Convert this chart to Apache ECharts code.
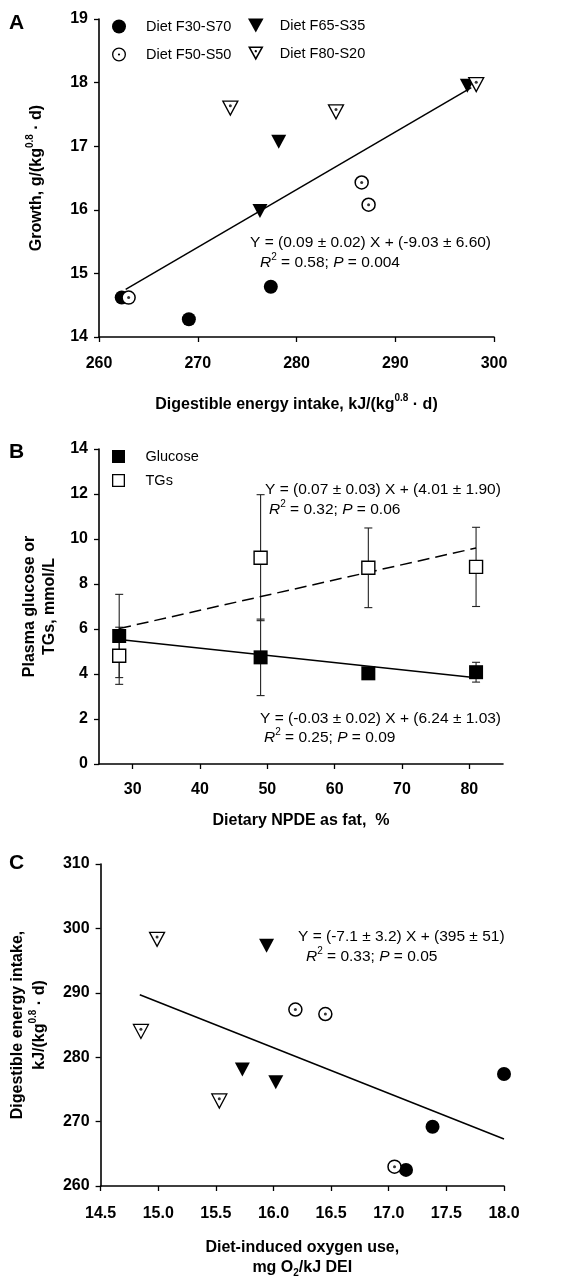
<!DOCTYPE html>
<html>
<head>
<meta charset="utf-8">
<script src="https://cdn.jsdelivr.net/npm/echarts@6/dist/echarts.min.js"></script>
<style>
html, body { margin: 0; padding: 0; background: #fff; }
#chart { width: 584px; height: 1279px; }
</style>
</head>
<body>
<div id="chart"></div>
<script>
// ---- data ----
// A: growth vs digestible energy intake
var growthF30 = [[262.3, 14.62], [269.1, 14.28], [277.4, 14.79]];
var growthF50 = [[263.0, 14.62], [286.6, 16.43], [287.3, 16.08]];
var growthF65 = [[276.3, 15.98], [278.2, 17.07], [297.3, 17.95]];
var growthF80 = [[273.3, 17.60], [284.0, 17.54], [298.2, 17.97]];
var growthFit = [[262.7, 14.75], [297.7, 17.92]];

// B: plasma glucose / TGs vs NPDE as fat
var fatPct = [28, 49, 65, 81];
var glucose = [5.69, 4.74, 4.03, 4.08];
var glucoseSd = [1.85, 1.70, 0.25, 0.44];
var tgs = [4.81, 9.17, 8.72, 8.76];
var tgsSd = [1.27, 2.80, 1.77, 1.76];
var glucoseFit = [[28, 5.53], [81, 3.83]];
var tgsFit = [[28, 6.02], [81, 9.60]];
var fatTicks = [30, 40, 50, 60, 70, 80];

// C: DEI vs diet-induced oxygen use
var deiF30 = [[17.15, 262.5], [17.38, 269.2], [18.00, 277.4]];
var deiF50 = [[17.05, 263.0], [16.19, 287.4], [16.45, 286.7]];
var deiF65 = [[15.94, 297.3], [15.73, 278.1], [16.02, 276.1]];
var deiF80 = [[14.99, 298.3], [14.85, 284.0], [15.53, 273.2]];
var deiFit = [[14.84, 289.7], [18.00, 267.3]];

var FONT = "'Liberation Sans', Arial, sans-serif";

// marker shapes
var triPath = 'path://M0,0 L20,0 L10,18 Z';
var discPath = 'path://M0,10 A10,10 0 1 1 20,10 A10,10 0 1 1 0,10 Z';
var ringPath = 'path://M0,10 A10,10 0 1 1 20,10 A10,10 0 1 1 0,10 Z ' +
  'M1.9,10 A8.1,8.1 0 1 0 18.1,10 A8.1,8.1 0 1 0 1.9,10 Z ' +
  'M8.4,10 A1.6,1.6 0 1 1 11.6,10 A1.6,1.6 0 1 1 8.4,10 Z';
var triRingPath = 'path://M0,0 L20,0 L10,18 Z M3.4,2 L10,13.9 L16.6,2 Z ' +
  'M8.5,6 A1.5,1.5 0 1 1 11.5,6 A1.5,1.5 0 1 1 8.5,6 Z';
var sqPath = 'path://M0,0 L20,0 L20,20 L0,20 Z';
var sqRingPath = 'path://M0,0 L20,0 L20,20 L0,20 Z M2,2 L2,18 L18,18 L18,2 Z';

function withSd(xs, ys, sd) {
  var out = [];
  for (var i = 0; i < xs.length; i++) out.push([xs[i], ys[i] - sd[i], ys[i] + sd[i]]);
  return out;
}
function pairs(xs, ys) {
  return xs.map(function (x, i) { return [x, ys[i]]; });
}

function axisCommon() {
  return {
    axisLine: { show: true, onZero: false, lineStyle: { color: '#000', width: 1.6 } },
    axisTick: { show: true, inside: false, length: 5, lineStyle: { color: '#000', width: 1.3 } },
    axisLabel: { color: '#000', fontSize: 16, fontWeight: 'bold', fontFamily: FONT },
    splitLine: { show: false },
    nameLocation: 'middle',
    nameTextStyle: {
      color: '#000', fontSize: 16, fontWeight: 'bold', fontFamily: FONT, lineHeight: 20,
      rich: {
        sup: { fontSize: 10, fontWeight: 'bold', fontFamily: FONT, color: '#000', verticalAlign: 'top', lineHeight: 24 },
        sub: { fontSize: 10, fontWeight: 'bold', fontFamily: FONT, color: '#000', verticalAlign: 'bottom' }
      }
    }
  };
}
function ax(extra) {
  var a = axisCommon();
  for (var k in extra) {
    if (typeof extra[k] === 'object' && !Array.isArray(extra[k]) && a[k]) {
      for (var j in extra[k]) a[k][j] = extra[k][j];
    } else a[k] = extra[k];
  }
  return a;
}

function dotSeries(data, xi, yi, offset) {
  return {
    type: 'scatter', name: 'dot', xAxisIndex: xi, yAxisIndex: yi, data: data,
    symbol: 'circle', symbolSize: 3, symbolOffset: offset || [0, 0],
    itemStyle: { color: '#000' }, silent: true, z: 3
  };
}
function lineSeries(data, xi, yi, type) {
  return {
    type: 'line', name: 'fit', xAxisIndex: xi, yAxisIndex: yi, data: data,
    symbol: 'none', silent: true, lineStyle: { color: '#000', width: 1.5, type: type || 'solid' }, z: 1
  };
}
function dietSeries(xi, yi, f30, f50, f65, f80) {
  return [
    { type: 'scatter', name: 'Diet F30-S70', xAxisIndex: xi, yAxisIndex: yi, data: f30,
      symbol: 'circle', symbolSize: 14, itemStyle: { color: '#000', opacity: 1 }, z: 2 },
    { type: 'scatter', name: 'Diet F50-S50', xAxisIndex: xi, yAxisIndex: yi, data: f50,
      symbol: 'circle', symbolSize: 13, itemStyle: { color: '#fff', borderColor: '#000', borderWidth: 1.5, opacity: 1 }, z: 2 },
    dotSeries(f50, xi, yi),
    { type: 'scatter', name: 'Diet F65-S35', xAxisIndex: xi, yAxisIndex: yi, data: f65,
      symbol: triPath, symbolSize: [15, 14], itemStyle: { color: '#000', opacity: 1 }, z: 2 },
    { type: 'scatter', name: 'Diet F80-S20', xAxisIndex: xi, yAxisIndex: yi, data: f80,
      symbol: triPath, symbolSize: [15, 14], itemStyle: { color: '#fff', borderColor: '#000', borderWidth: 1.3, opacity: 1 }, z: 2 },
    dotSeries(f80, xi, yi, [0, -2.3])
  ];
}

function errorSeries(data, xi, yi) {
  return {
    type: 'custom', name: 'err', xAxisIndex: xi, yAxisIndex: yi, data: data, z: 1, silent: true,
    renderItem: function (params, api) {
      var x = api.value(0);
      var lo = api.coord([x, api.value(1)]);
      var hi = api.coord([x, api.value(2)]);
      var c = 4;
      var st = { stroke: '#222', lineWidth: 1.1 };
      return {
        type: 'group', children: [
          { type: 'line', shape: { x1: lo[0], y1: lo[1], x2: hi[0], y2: hi[1] }, style: st },
          { type: 'line', shape: { x1: lo[0] - c, y1: lo[1], x2: lo[0] + c, y2: lo[1] }, style: st },
          { type: 'line', shape: { x1: hi[0] - c, y1: hi[1], x2: hi[0] + c, y2: hi[1] }, style: st }
        ]
      };
    }
  };
}

function txt(x, y, text, size, extra) {
  var s = {
    text: text, x: x, y: y, fill: '#000', fontFamily: FONT, fontSize: size || 15.5,
    verticalAlign: 'middle', align: 'left',
    rich: {
      i: { fontStyle: 'italic', fontSize: 15.5, fontFamily: FONT, fill: '#000' },
      s: { fontSize: 10, fontFamily: FONT, fill: '#000', verticalAlign: 'top', lineHeight: 22 }
    }
  };
  if (extra) for (var k in extra) s[k] = extra[k];
  return { type: 'text', style: s, z: 10 };
}

var legendText = { color: '#000', fontSize: 14.5, fontFamily: FONT };
var black = { color: '#000', borderWidth: 0 };

var option = {
  animation: false,
  backgroundColor: '#fff',
  grid: [
    { left: 99, right: 90, top: 19, height: 318 },
    { left: 99, right: 81, top: 449, height: 315 },
    { left: 99, right: 80, top: 864, height: 325 }
  ],
  legend: [
    { orient: 'vertical', left: 107, top: 14, itemWidth: 44, itemHeight: 14, itemGap: 13,
      selectedMode: false, textStyle: legendText,
      data: [{ name: 'Diet F30-S70', icon: discPath, itemStyle: black },
             { name: 'Diet F50-S50', icon: ringPath, itemStyle: black }] },
    { orient: 'vertical', left: 243, top: 13, itemWidth: 38, itemHeight: 14, itemGap: 13,
      selectedMode: false, textStyle: legendText,
      data: [{ name: 'Diet F65-S35', icon: triPath, itemStyle: black },
             { name: 'Diet F80-S20', icon: triRingPath, itemStyle: black }] },
    { orient: 'vertical', left: 107, top: 444, itemWidth: 44, itemHeight: 13, itemGap: 9,
      selectedMode: false, textStyle: legendText,
      data: [{ name: 'Glucose', icon: sqPath, itemStyle: black },
             { name: 'TGs', icon: sqRingPath, itemStyle: black }] }
  ],
  xAxis: [
    ax({ gridIndex: 0, type: 'value', min: 260, max: 300, interval: 10,
         name: 'Digestible energy intake, kJ/(kg{sup|0.8} · d)', nameGap: 56,
         axisLabel: { margin: 19 } }),
    ax({ gridIndex: 1, type: 'value', min: 25, max: 85,
         name: 'Dietary NPDE as fat,  %', nameGap: 47,
         axisTick: { customValues: fatTicks },
         axisLabel: { margin: 18, customValues: fatTicks } }),
    ax({ gridIndex: 2, type: 'value', min: 14.5, max: 18, interval: 0.5,
         name: 'Diet-induced oxygen use,\nmg O{sub|2}/kJ DEI', nameGap: 52,
         axisLabel: { margin: 20, formatter: function (v) { return v.toFixed(1); } } })
  ],
  yAxis: [
    ax({ gridIndex: 0, type: 'value', min: 14, max: 19, interval: 1,
         name: 'Growth, g/(kg{sup|0.8} · d)', nameGap: 50, axisLabel: { margin: 11 } }),
    ax({ gridIndex: 1, type: 'value', min: 0, max: 14, interval: 2,
         name: 'Plasma glucose or\nTGs, mmol/L', nameGap: 38, axisLabel: { margin: 11 } }),
    ax({ gridIndex: 2, type: 'value', min: 260, max: 310, interval: 10,
         name: 'Digestible energy intake,\nkJ/(kg{sup|0.8} · d)', nameGap: 47, axisLabel: { margin: 11 } })
  ],
  series: [].concat(
    [lineSeries(growthFit, 0, 0)],
    dietSeries(0, 0, growthF30, growthF50, growthF65, growthF80),

    [errorSeries(withSd(fatPct, glucose, glucoseSd), 1, 1),
     errorSeries(withSd(fatPct, tgs, tgsSd), 1, 1),
     lineSeries(glucoseFit, 1, 1),
     lineSeries(tgsFit, 1, 1, [12, 6]),
     { type: 'scatter', name: 'Glucose', xAxisIndex: 1, yAxisIndex: 1, data: pairs(fatPct, glucose),
       symbol: 'rect', symbolSize: 14, itemStyle: { color: '#000', opacity: 1 }, z: 2 },
     { type: 'scatter', name: 'TGs', xAxisIndex: 1, yAxisIndex: 1, data: pairs(fatPct, tgs),
       symbol: 'rect', symbolSize: 13, itemStyle: { color: '#fff', borderColor: '#000', borderWidth: 1.4, opacity: 1 }, z: 3 }],

    [lineSeries(deiFit, 2, 2)],
    dietSeries(2, 2, deiF30, deiF50, deiF65, deiF80)
  ),
  graphic: [
    txt(9, 23, 'A', 21, { fontWeight: 'bold' }),
    txt(9, 452, 'B', 21, { fontWeight: 'bold' }),
    txt(9, 863, 'C', 21, { fontWeight: 'bold' }),

    txt(250, 243, 'Y = (0.09 ± 0.02) X + (-9.03 ± 6.60)'),
    txt(260, 263, '{i|R}{s|2} = 0.58; {i|P} = 0.004'),

    txt(265, 490, 'Y = (0.07 ± 0.03) X + (4.01 ± 1.90)'),
    txt(269, 510, '{i|R}{s|2} = 0.32; {i|P} = 0.06'),
    txt(260, 719, 'Y = (-0.03 ± 0.02) X + (6.24 ± 1.03)'),
    txt(264, 738, '{i|R}{s|2} = 0.25; {i|P} = 0.09'),

    txt(298, 937, 'Y = (-7.1 ± 3.2) X + (395 ± 51)'),
    txt(306, 957, '{i|R}{s|2} = 0.33; {i|P} = 0.05')
  ]
};

var chart = echarts.init(document.getElementById('chart'), null, { renderer: 'canvas' });
chart.setOption(option);
</script>
</body>
</html>
